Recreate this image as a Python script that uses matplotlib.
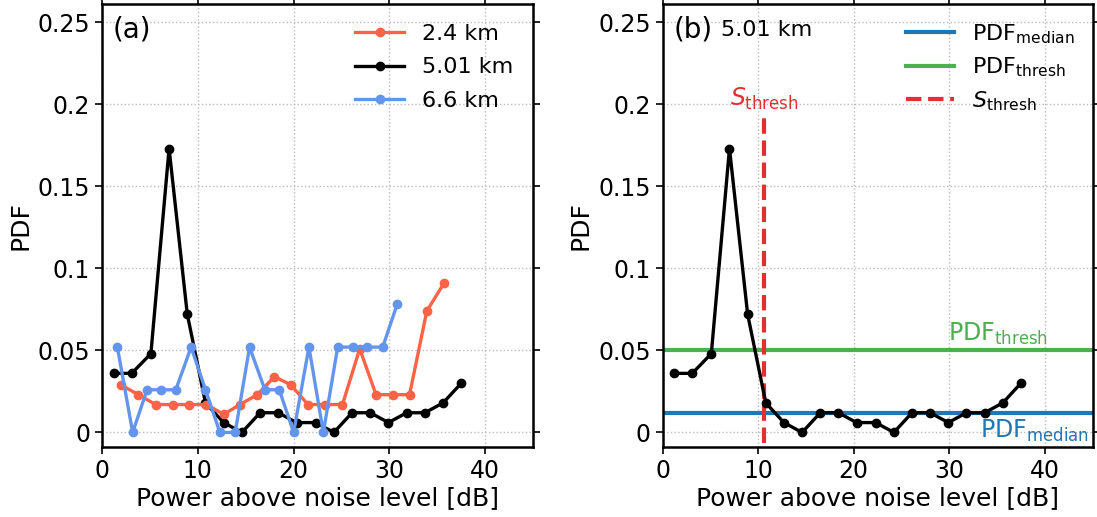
import matplotlib.pyplot as plt
from matplotlib.ticker import FormatStrFormatter

plt.rcParams["mathtext.fontset"] = "dejavusans"

# 5.01 km profile (panel a and b)
black_x = [1.2, 3.1, 5.1, 7.0, 8.9, 10.8, 12.7, 14.6, 16.5, 18.4,
           20.3, 22.3, 24.2, 26.1, 28.0, 29.9, 31.8, 33.7, 35.6, 37.5]
black_y = [0.036, 0.036, 0.048, 0.173, 0.072, 0.018, 0.006, 0.0, 0.012, 0.012,
           0.006, 0.006, 0.0, 0.012, 0.012, 0.006, 0.012, 0.012, 0.018, 0.030]

# 2.4 km
red_x = [1.95, 3.8, 5.6, 7.4, 9.1, 10.9, 12.7, 14.4, 16.2, 18.0,
         19.7, 21.5, 23.3, 25.1, 26.9, 28.6, 30.4, 32.1, 33.9, 35.7]
red_y = [0.029, 0.023, 0.017, 0.017, 0.017, 0.017, 0.011, 0.017, 0.023, 0.034,
         0.029, 0.017, 0.017, 0.017, 0.051, 0.023, 0.023, 0.023, 0.074, 0.091]

# 6.6 km
blue_x = [1.6, 3.2, 4.7, 6.2, 7.7, 9.3, 10.8, 12.3, 13.9, 15.4,
          17.0, 18.5, 20.0, 21.6, 23.1, 24.6, 26.2, 27.7, 29.3, 30.8]
blue_y = [0.052, 0.0, 0.026, 0.026, 0.026, 0.052, 0.026, 0.0, 0.0, 0.052,
          0.026, 0.026, 0.0, 0.052, 0.0, 0.052, 0.052, 0.052, 0.052, 0.078]

pdf_median = 0.012
pdf_thresh = 0.05
s_thresh = 10.66

fs_tick = 17
fs_label = 18
fs_leg = 16
fs_note = 17
lw = 2.4
ms = 6

fig = plt.figure(figsize=(10.97, 5.17), dpi=100)
ax_a = fig.add_axes([0.093, 0.135, 0.393, 0.857])
ax_b = fig.add_axes([0.604, 0.135, 0.392, 0.857])

ax_a.plot(red_x, red_y, "-o", color="#ff6347", lw=lw, ms=ms, label="2.4 km", zorder=3)
ax_a.plot(black_x, black_y, "-o", color="black", lw=lw, ms=ms, label="5.01 km", zorder=2)
ax_a.plot(blue_x, blue_y, "-o", color="#6495ed", lw=lw, ms=ms, label="6.6 km", zorder=4)
ax_a.legend(loc="upper right", frameon=False, fontsize=fs_leg, handlelength=2.2,
            borderaxespad=0.5, labelspacing=0.6)
ax_a.text(0.025, 0.975, "(a)", transform=ax_a.transAxes, fontsize=20, va="top", ha="left")

ax_b.plot(black_x, black_y, "-o", color="black", lw=lw, ms=ms, zorder=4)
ax_b.axhline(pdf_median, color="#1f77b4", lw=3, label=r"PDF$_{\mathrm{median}}$", zorder=2)
ax_b.axhline(pdf_thresh, color="#4caf50", lw=3, label=r"PDF$_{\mathrm{thresh}}$", zorder=2)
ax_b.plot([s_thresh, s_thresh], [-0.02, 0.192], "--", color="#e03030", lw=3,
          label=r"$S_{\mathrm{thresh}}$", zorder=3)
ax_b.text(s_thresh, 0.195, r"$S_{\mathrm{thresh}}$", color="#e03030", fontsize=fs_note,
          ha="center", va="bottom")
ax_b.text(40.3, pdf_thresh + 0.002, r"PDF$_{\mathrm{thresh}}$", color="#4caf50",
          fontsize=fs_note, ha="right", va="bottom")
ax_b.text(44.6, pdf_median - 0.003, r"PDF$_{\mathrm{median}}$", color="#1f77b4",
          fontsize=fs_note, ha="right", va="top")
ax_b.legend(loc="upper right", frameon=False, fontsize=fs_leg, handlelength=2.2,
            borderaxespad=0.4, labelspacing=0.45)
ax_b.text(0.025, 0.975, "(b)", transform=ax_b.transAxes, fontsize=20, va="top", ha="left")
ax_b.text(0.135, 0.965, "5.01 km", transform=ax_b.transAxes, fontsize=16, va="top", ha="left")

for ax in (ax_a, ax_b):
    ax.set_xlim(0, 45)
    ax.set_ylim(-0.009, 0.261)
    ax.set_xticks([0, 10, 20, 30, 40])
    ax.set_yticks([0, 0.05, 0.1, 0.15, 0.2, 0.25])
    ax.yaxis.set_major_formatter(FormatStrFormatter("%g"))
    ax.tick_params(labelsize=fs_tick, top=True, right=True, direction="out", length=5, width=1.2)
    ax.grid(True, linestyle=":", color="#bbbbbb", lw=1)
    ax.set_axisbelow(True)
    for sp in ax.spines.values():
        sp.set_linewidth(1.8)
    ax.set_xlabel("Power above noise level [dB]", fontsize=fs_label, labelpad=2)
    ax.set_ylabel("PDF", fontsize=fs_label)

fig.savefig("out.png", dpi=100)
